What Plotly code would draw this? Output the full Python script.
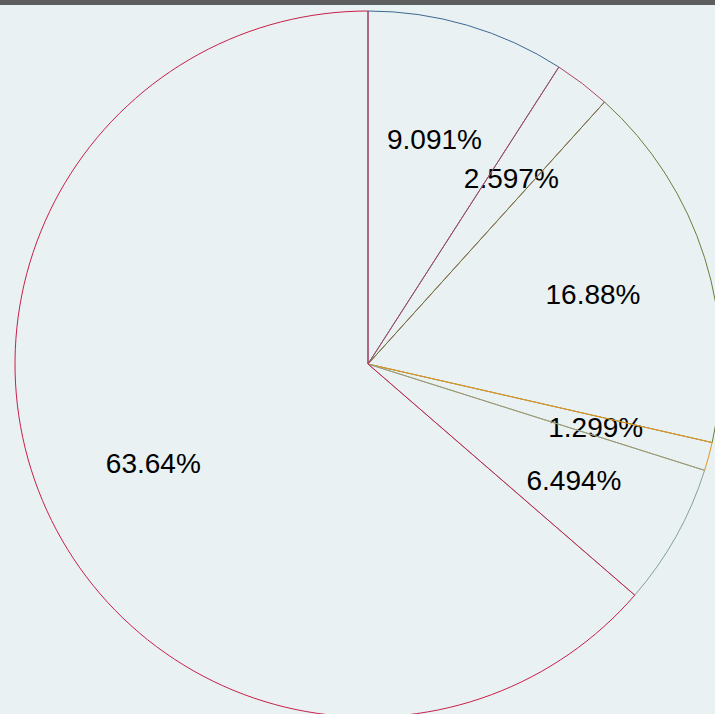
import plotly.graph_objects as go

# Slice data (clockwise from 12 o'clock)
categories = ["A", "B", "C", "D", "E", "F"]
counts = [7, 2, 13, 1, 5, 49]
slice_colors = ["#3d6894", "#b0455f", "#6b7d3c", "#e8941c", "#84a097", "#c8204a"]

BG = "#e9f1f2"
total = sum(counts)
percents = [c / total * 100 for c in counts]
pct_text = [f"{p:.4g}%" for p in percents]

# mid-angle of every slice, in degrees clockwise from the top
mid_theta = []
acc = 0.0
for p in percents:
    mid_theta.append((acc + p / 2) * 3.6)
    acc += p

PLOT_SIZE = 706          # square plotting area in px
TEXT_DROP = 4            # nudge labels down so glyphs sit centred

fig = go.Figure()

fig.add_trace(go.Pie(
    labels=categories,
    values=counts,
    sort=False,
    direction="clockwise",
    rotation=0,
    marker=dict(colors=["rgba(0,0,0,0)"] * len(counts),
                line=dict(color=slice_colors, width=1)),
    textinfo="none",
    hoverinfo="label+percent",
    showlegend=False,
))

# percentage labels placed on a polar scale laid over the pie
label_radius = 236 / (PLOT_SIZE / 2 - TEXT_DROP)
fig.add_trace(go.Scatterpolar(
    r=[label_radius] * len(counts),
    theta=mid_theta,
    mode="text",
    text=pct_text,
    textposition="middle center",
    textfont=dict(family="Arial, Liberation Sans, sans-serif", size=28, color="#000000"),
    hoverinfo="skip",
    showlegend=False,
    cliponaxis=False,
))

fig.update_layout(
    width=721,
    height=717,
    autosize=False,
    margin=dict(l=15, r=0, t=11, b=0, pad=0),
    paper_bgcolor=BG,
    plot_bgcolor=BG,
    polar=dict(
        domain=dict(x=[0, 1], y=[0, 1 - 2 * TEXT_DROP / PLOT_SIZE]),
        bgcolor="rgba(0,0,0,0)",
        radialaxis=dict(visible=False, range=[0, 1]),
        angularaxis=dict(visible=False, rotation=90, direction="clockwise"),
    ),
    shapes=[dict(
        type="rect", xref="paper", yref="paper",
        ysizemode="pixel", yanchor=1,
        x0=-0.1, x1=1.1, y0=6, y1=30,
        fillcolor="#5e5e5e", line=dict(width=0), layer="above",
    )],
)

fig.write_html(
    "out.html",
    post_script=(
        "document.documentElement.style.overflow='hidden';"
        "document.body.style.overflow='hidden';"
        "document.body.style.margin='0';"
    ),
)
